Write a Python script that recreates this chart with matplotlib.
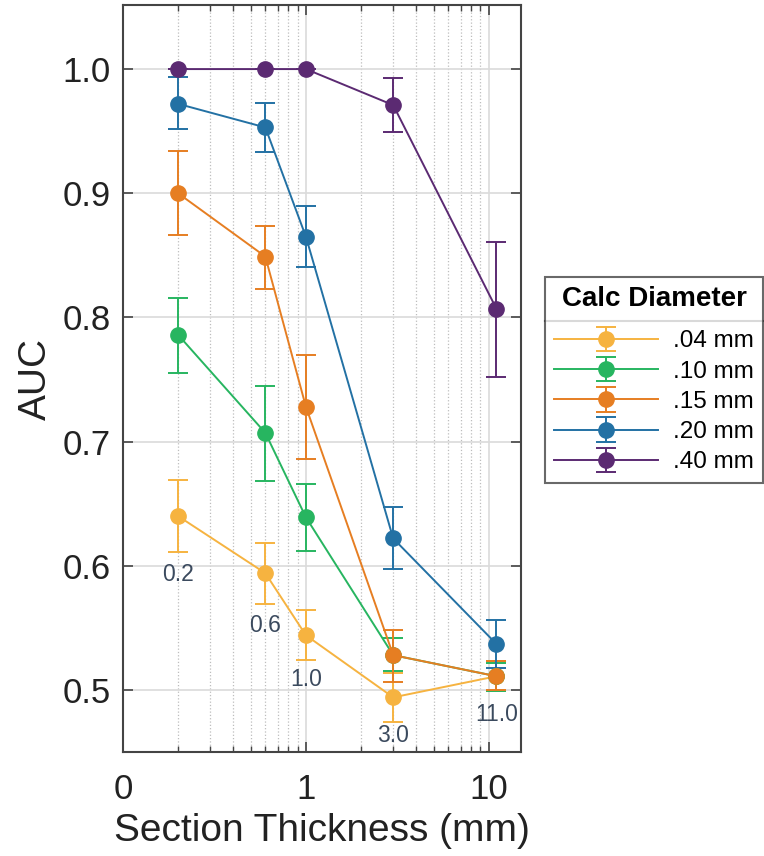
import numpy as np
import matplotlib
matplotlib.use('Agg')
import matplotlib.pyplot as plt
from matplotlib.ticker import FixedLocator, NullFormatter, LogLocator
from matplotlib.lines import Line2D

plt.rcParams['font.family'] = ['Liberation Sans', 'DejaVu Sans']

# section thickness (mm)
thickness = [0.2, 0.6, 1.0, 3.0, 11.0]
thickness_labels = ['0.2', '0.6', '1.0', '3.0', '11.0']

diameters = ['.04 mm', '.10 mm', '.15 mm', '.20 mm', '.40 mm']
colors = ['#F6B340', '#27B560', '#E67E22', '#2371A4', '#5B2A72']

# AUC mean values per diameter
auc_04 = [0.640, 0.594, 0.544, 0.494, 0.511]
auc_10 = [0.786, 0.707, 0.639, 0.528, 0.511]
auc_15 = [0.900, 0.849, 0.728, 0.528, 0.511]
auc_20 = [0.972, 0.953, 0.865, 0.622, 0.537]
auc_40 = [1.000, 1.000, 1.000, 0.971, 0.807]

# error bar limits (lower, upper)
lo_04 = [0.611, 0.569, 0.524, 0.474, 0.499]
hi_04 = [0.669, 0.618, 0.564, 0.514, 0.523]
lo_10 = [0.755, 0.668, 0.612, 0.515, 0.499]
hi_10 = [0.816, 0.745, 0.666, 0.542, 0.522]
lo_15 = [0.866, 0.823, 0.686, 0.506, 0.500]
hi_15 = [0.934, 0.874, 0.770, 0.548, 0.523]
lo_20 = [0.952, 0.933, 0.841, 0.597, 0.518]
hi_20 = [0.994, 0.973, 0.890, 0.647, 0.556]
lo_40 = [1.000, 1.000, 1.000, 0.949, 0.752]
hi_40 = [1.000, 1.000, 1.000, 0.993, 0.861]

means = [auc_04, auc_10, auc_15, auc_20, auc_40]
lows = [lo_04, lo_10, lo_15, lo_20, lo_40]
highs = [hi_04, hi_10, hi_15, hi_20, hi_40]

fig = plt.figure(figsize=(7.64, 8.56), dpi=100)
ax = fig.add_axes([0.161, 0.1215, 0.521, 0.8725])

x = np.array(thickness)
for name, c, m, lo, hi in zip(diameters, colors, means, lows, highs):
    m = np.array(m)
    yerr = [m - np.array(lo), np.array(hi) - m]
    ax.errorbar(x, m, yerr=yerr, color=c, marker='o', markersize=11,
                linewidth=1.4, elinewidth=1.4, capsize=7.5, capthick=1.4,
                label=name, zorder=3)

# thickness labels below the .04 mm points
offsets = [-22, -21, -19, -13, -23]
for xv, lab, lo, off in zip(thickness, thickness_labels, lo_04, offsets):
    ax.annotate(lab, xy=(xv, lo), xytext=(0, off), textcoords='offset pixels',
                ha='center', va='center', fontsize=16.5, color='#3B4A5E', zorder=4)

ax.set_xscale('log')
ax.set_xlim(0.1, 15)
ax.set_ylim(0.45, 1.0515)
ax.xaxis.set_major_locator(FixedLocator([0.1, 1, 10]))
ax.set_xticklabels(['0', '1', '10'])
ax.xaxis.set_minor_locator(LogLocator(base=10, subs=np.arange(2, 10)))
ax.xaxis.set_minor_formatter(NullFormatter())
ax.set_yticks([0.5, 0.6, 0.7, 0.8, 0.9, 1.0])
ax.set_yticklabels(['0.5', '0.6', '0.7', '0.8', '0.9', '1.0'])

ax.grid(True, which='major', color='#DADADA', linewidth=1.2, zorder=0)
ax.grid(True, which='minor', axis='x', color='#BDBDBD', linestyle=':', linewidth=0.9, zorder=0)
ax.set_axisbelow(True)

ax.tick_params(which='both', direction='in', top=True, right=True, colors='#444444',
               labelcolor='#222222')
ax.tick_params(which='major', length=7, width=1.2, labelsize=25)
ax.tick_params(which='minor', length=4, width=1.0)
ax.tick_params(axis='x', which='major', pad=15)
ax.tick_params(axis='y', which='major', pad=9)
for s in ax.spines.values():
    s.set_color('#444444')
    s.set_linewidth(1.5)

ax.set_xlabel('Section Thickness (mm)', fontsize=28, color='#222222', labelpad=5)
ax.set_ylabel('AUC', fontsize=28, color='#222222', labelpad=6)

leg = fig.legend(loc='upper left', bbox_to_anchor=(0.713, 0.6764),
                 title='Calc Diameter', fontsize=17.5, frameon=True, fancybox=False,
                 edgecolor='#444444', handlelength=4.3, labelspacing=0.34,
                 borderpad=0.38, handletextpad=0.6, borderaxespad=0)
leg.get_title().set_fontsize(20)
leg.get_title().set_fontweight('bold')
leg.get_frame().set_linewidth(1.5)
# extra gap between title and entries
leg._legend_box.sep = 13

# separator line under the legend title
fig.canvas.draw()
inv = fig.transFigure.inverted()
lb = leg.get_window_extent()
tb = leg.get_title().get_window_extent()
hb = leg._legend_handle_box.get_window_extent()
(x0, y0), (x1, y1) = inv.transform([[lb.x0, lb.y0], [lb.x1, lb.y1]])
ysep = inv.transform([[0, (tb.y0 + hb.y1) / 2]])[0][1]
fig.add_artist(Line2D([x0, x1], [ysep, ysep], transform=fig.transFigure,
                      color='#444444', linewidth=1.5))

fig.savefig('out.png', dpi=100)
